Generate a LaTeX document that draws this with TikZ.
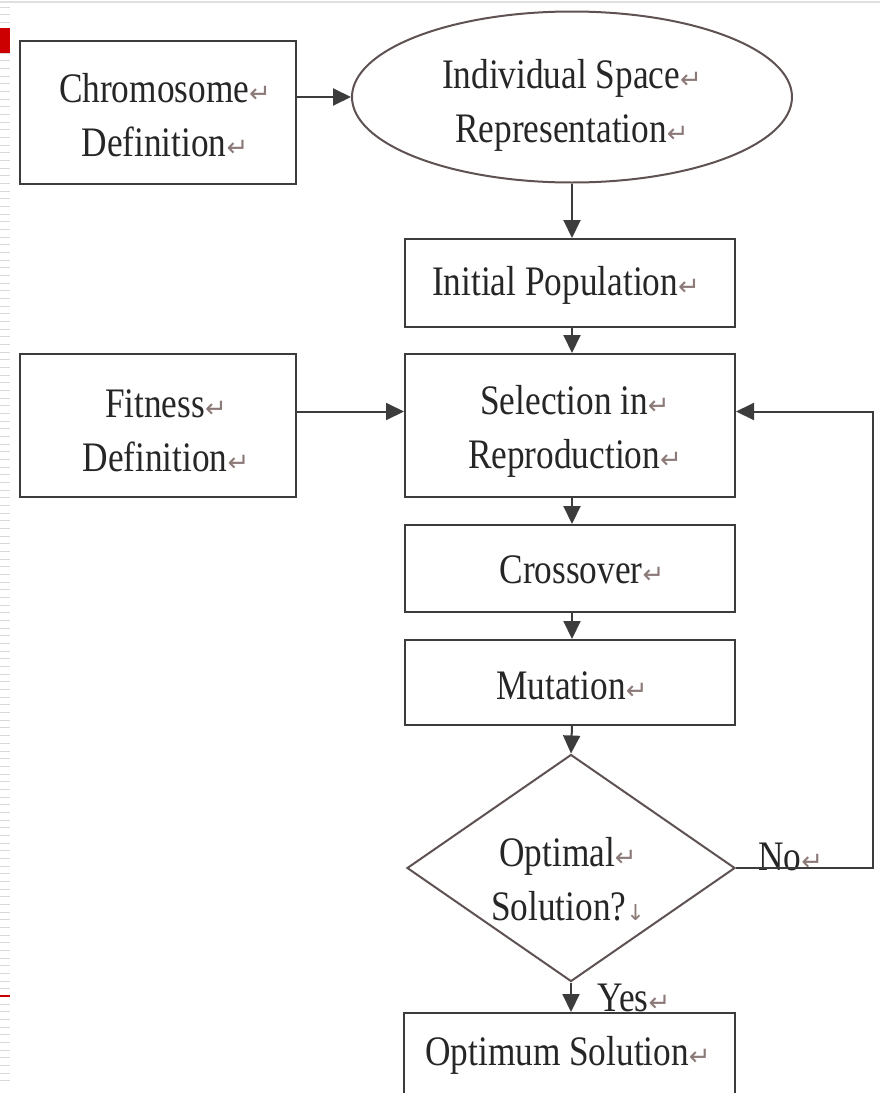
\documentclass[tikz,border=0pt]{standalone}
\usepackage{fontspec}
\setmainfont[FakeStretch=0.84]{Liberation Serif}
\newfontfamily\markfont{DejaVu Sans}
\usetikzlibrary{shapes.geometric,arrows.meta}
\definecolor{edge}{HTML}{3C3C3C}
\definecolor{curve}{HTML}{5E5252}
\definecolor{pmark}{HTML}{8C7A78}
\definecolor{ink}{HTML}{262626}
\newcommand{\parmark}{{\markfont\fontsize{26}{26}\selectfont\color{pmark}\raisebox{0pt}{↵}}}
\newcommand{\brkmark}{{\markfont\fontsize{22}{22}\selectfont\color{pmark}\raisebox{0pt}{↓}}}
\begin{document}
\begin{tikzpicture}[x=1pt,y=-1pt,
  box/.style={draw=edge,line width=2pt,rectangle,inner sep=0pt},
  lbl/.style={text=ink,align=center,inner sep=0pt,font=\fontsize{42}{54}\selectfont},
  flow/.style={draw=edge,line width=2pt,-{Triangle[length=18pt,width=17pt]}},
  line/.style={draw=edge,line width=2pt}]
\useasboundingbox (0,0) rectangle (880,1093);
% page frame: top rule and left margin ruler
\draw[gray!25,line width=1.5pt] (0,2) -- (880,2);
\foreach \k in {0,...,140} {
  \draw[gray!30,line width=1pt] (0,{7+7.67*\k}) -- (10,{7+7.67*\k});
}
\fill[red!80!black] (0,28) rectangle (10,53);
\draw[red!80!black,line width=1.2pt] (0,996) -- (10,996);

% shapes
\node[box,minimum width=276pt,minimum height=143pt] (chrom) at (158,112.5) {};
\node[ellipse,draw=curve,line width=2pt,minimum width=440pt,minimum height=171pt,inner sep=0pt] (ell) at (572,97) {};
\node[box,minimum width=330pt,minimum height=88pt] (init) at (570,283) {};
\node[box,minimum width=276pt,minimum height=143pt] (fit) at (158,425.5) {};
\node[box,minimum width=330pt,minimum height=143pt] (sel) at (570,425.5) {};
\node[box,minimum width=330pt,minimum height=87pt] (cross) at (570,568.5) {};
\node[box,minimum width=330pt,minimum height=85pt] (mut) at (570,682.5) {};
\node[diamond,draw=curve,line width=2pt,minimum width=328pt,minimum height=227pt,inner sep=0pt] (diam) at (571,868) {};
\node[box,minimum width=331pt,minimum height=100pt,anchor=north] (opt) at (569.5,1012) {};

% texts
\node[lbl] (tchrom) at (165,115) {Chromosome\parmark\\Definition\parmark};
\node[lbl] (tell) at (572,105) {Individual Space\parmark\\Representation\parmark};
\node[lbl] (tinit) at (566,285) {Initial Population\parmark};
\node[lbl] (tfit) at (166,431) {Fitness\parmark\\Definition\parmark};
\node[lbl] (tsel) at (575,431) {Selection in\parmark\\Reproduction\parmark};
\node[lbl] (tcross) at (582,570) {Crossover\parmark};
\node[lbl] (tmut) at (572,686) {Mutation\parmark};
\node[lbl] (tdiam) at (568,879) {Optimal\parmark\\Solution?\brkmark};
\node[lbl] (topt) at (568,1055) {Optimum Solution\parmark};
\node[lbl,anchor=base west] (tno) at (758,870) {No\parmark};
\node[lbl,anchor=base west] (tyes) at (597,1011) {Yes\parmark};

% connectors
\coordinate (loopA) at (873,868);
\draw[flow] (chrom.east |- ell.west) -- (ell.west);
\draw[flow] (ell.south) -- (ell.south |- init.north);
\draw[flow] (init.south -| ell.south) -- (sel.north -| ell.south);
\draw[flow] ([yshift=14pt]fit.east) -- ([yshift=14pt]sel.west);
\draw[flow] (sel.south -| ell.south) -- (cross.north -| ell.south);
\draw[flow] (cross.south -| ell.south) -- (mut.north -| ell.south);
\draw[flow] (mut.south -| ell.south) -- (diam.north);
\draw[flow] (diam.south) -- (diam.south |- opt.north);
\draw[flow] (diam.east) -- (loopA) |- ([yshift=14pt]sel.east);
\end{tikzpicture}
\end{document}
